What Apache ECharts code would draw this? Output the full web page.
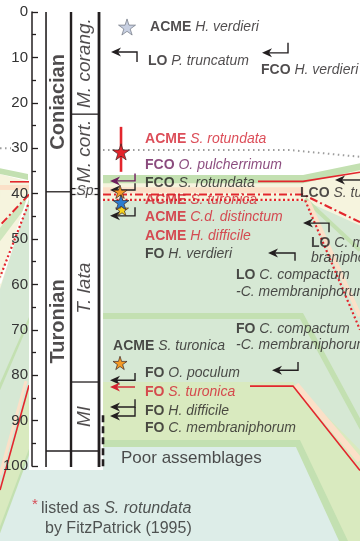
<!DOCTYPE html>
<html>
<head>
<meta charset="utf-8">
<script src="https://cdn.jsdelivr.net/npm/echarts@6/dist/echarts.min.js"></script>
<style>
  html, body { margin: 0; padding: 0; background: #fff; }
  #chart { width: 360px; height: 541px; }
</style>
</head>
<body>
<div id="chart"></div>
<script>
// ---------- data ----------
// depth scale (m), read downward
const depthTicks = [0, 10, 20, 30, 40, 50, 60, 70, 80, 90, 100];

// chronostratigraphy: [name, top, base] in m
const stages = [['Coniacian', 0, 39.6], ['Turonian', 39.6, 96.7]];
// dinocyst zones: [name, top, base] in m
const zones = [
  ['M. corang.', 0, 22.5],
  ['M. cort.', 22.5, 38.9],
  ['Sp', 38.9, 40.2],
  ['T. lata', 40.2, 81.5],
  ['MI', 81.5, 96.7]
];

// bio-events: [lateral position, depth, event type, taxon, tone]
const bioEvents = [
  [150, 3.3, 'ACME', 'H. verdieri', 'k'],
  [148, 10.9, 'LO', 'P. truncatum', 'k'],
  [261, 12.7, 'FCO', 'H. verdieri', 'k'],
  [145, 28.0, 'ACME', 'S. rotundata', 'r'],
  [145, 33.7, 'FCO', 'O. pulcherrimum', 'p'],
  [145, 37.7, 'FCO', 'S. rotundata', 'k'],
  [145, 41.4, 'ACME', 'S. turonica', 'r'],
  [145, 45.2, 'ACME', 'C.d. distinctum', 'r'],
  [145, 49.3, 'ACME', 'H. difficile', 'r'],
  [145, 53.3, 'FO', 'H. verdieri', 'k'],
  [300, 39.9, 'LCO', 'S. turonica', 'k'],
  [311, 50.9, 'LO', 'C. mem-', 'k'],
  [311, 54.2, '', 'braniphorum', 'k'],
  [236, 57.9, 'LO', 'C. compactum', 'k'],
  [236, 61.7, '', '-C. membraniphorum', 'k'],
  [236, 69.8, 'FO', 'C. compactum', 'k'],
  [236, 73.3, '', '-C. membraniphorum', 'k'],
  [113, 73.6, 'ACME', 'S. turonica', 'k'],
  [145, 79.5, 'FO', 'O. poculum', 'k'],
  [145, 83.7, 'FO', 'S. turonica', 'r'],
  [145, 87.9, 'FO', 'H. difficile', 'k'],
  [145, 91.6, 'FO', 'C. membraniphorum', 'k']
];

// event arrows: [tip position, depth, tail position, hook depth, tone]
const eventArrows = [
  [111, 8.8, 137, 11.0, 'k'],
  [262, 9.0, 288, 6.8, 'k'],
  [110, 37.2, 135, 35.6, 'p'],
  [110, 39.2, 135, 37.7, 'k'],
  [110, 44.9, 135, 43.0, 'k'],
  [335, 37.0, 368, 37.0, 'k'],
  [303, 46.5, 329, 48.5, 'k'],
  [268, 53.1, 295, 54.8, 'k'],
  [272, 78.9, 298, 77.1, 'k'],
  [110, 81.1, 135, 79.5, 'k'],
  [110, 82.6, 135, 82.6, 'r'],
  [110, 87.0, 135, 85.3, 'k'],
  [110, 89.0, 135, 87.0, 'k']
];

// acme stars: [lateral position, depth, taxon]
const acmeStars = [
  [127, 3.3, 'H. verdieri'],
  [121, 30.8, 'S. rotundata'],
  [120, 39.6, 'S. turonica'],
  [122, 43.5, 'H. difficile'],
  [121, 41.9, 'C.d. distinctum'],
  [120, 77.3, 'S. turonica']
];

// S. rotundata acme range bar: [position, top, base]
const rotundataRange = [121, 25.3, 35.2];

// correlation band outlines: [lateral position, depth]
const baseField = [[0, 37.5], [360, 37.5], [360, 117], [0, 117]];
const turonicaFieldMain = [[103, 81.5], [293, 81.5], [360, 96.5], [360, 117], [346, 117], [300, 94.6], [103, 94.6]];
const turonicaFieldLeft = [[29, 82.2], [29, 96.9], [0, 114.1], [0, 105.3]];
const poorField = [[29, 96.9], [103, 95.8], [296, 95.8], [342, 117], [0, 117], [0, 114.1]];
const lowerGreenMain = [[103, 94.3], [300, 94.3], [349, 117], [340, 117], [296, 95.8], [103, 95.8]];
const lowerGreenLeft = [[29, 96.2], [29, 97.6], [0, 114.8], [0, 113.3]];
const middleGreenMain = [[103, 66.3], [303, 66.3], [360, 89.5], [360, 92], [300, 67.6], [103, 67.6]];
const middleGreenLeft = [[29, 67.2], [29, 68.4], [0, 83.3], [0, 81.7]];
const creamMain = [[103, 37.4], [303, 37.4], [360, 34.5], [360, 47], [305, 41.6], [103, 41.6]];
const creamLeft = [[0, 35.7], [29, 37.4], [29, 40.8], [0, 61]];
const peachMain = [[103, 38.6], [304, 38.6], [304, 39.8], [103, 39.8]];
const peachLeft = [[0, 38.1], [29, 38.1], [29, 39.2], [0, 39.2]];
const paleGreenLeft = [[29, 40.0], [29, 42.0], [0, 50.5], [0, 47.5]];
const upperGreenMain = [[103, 35.9], [303, 35.9], [360, 33.3], [360, 34.8], [303, 37.7], [103, 37.7]];
const upperGreenLeft = [[0, 34.4], [28, 35.7], [28, 37.0], [0, 35.7]];
const fanGreenLine = [[305, 41.2], [360, 52.5]];
const fanPeachLine = [[308, 41.6], [360, 67]];
const peachLowerMain = [[296, 82.1], [360, 98.8]];
const peachLowerLeft = [[26, 81.3], [0, 102]];
const dottedMain = [[103, 30.4], [290, 30.4], [360, 31.9]];
const dottedLeft = [[0, 30.0], [11, 30.0]];
const redUpperMain = [[258, 37.3], [303, 37.3], [360, 35.3]];
const redUpperLeft = [[10, 37.4], [29, 37.4]];
const dashDotMain = [[103, 40.2], [303, 40.2], [360, 46.3]];
const dashDotLeft = [[29, 40.2], [0, 47]];
const redDotMain = [[103, 41.4], [305, 41.4], [360, 70]];
const redDotLeft = [[28, 42.5], [0, 58.4]];
const whiteLeft = [[28, 41.0], [0, 59.8]];
const redLowerMain = [[250, 82.4], [293, 82.4], [360, 101]];
const redLowerLeft = [[29, 82.2], [0, 105.3]];

// footnote
const noteLines = ['listed as', 'S. rotundata', 'by FitzPatrick (1995)'];
const poorNote = 'Poor assemblages';

// ---------- styling ----------
const FONT = '"Liberation Sans", Arial, Helvetica, sans-serif';
const INK = '#231f20', RED = '#d3222f', PURPLE = '#6d1d5c';
const tones = { k: INK, r: RED, p: PURPLE };
const starFill = {
  'H. verdieri': '#c8d0e2', 'S. rotundata': '#e5232b', 'S. turonica': '#f49a25',
  'H. difficile': '#f5d31c', 'C.d. distinctum': '#2a7ccf'
};
const starSize = { 'H. verdieri': 17, 'S. rotundata': 17, 'S. turonica': 14, 'H. difficile': 13, 'C.d. distinctum': 16 };
const STAR = 'path://M50,0 L61,35 L98,35 L68,57 L79,91 L50,70 L21,91 L32,57 L2,35 L39,35 Z';

// column layout (lateral positions)
const COL = { boxL: 29, boxR: 103, stageL: 46, zoneL: 71, zoneR: 99, dashX: 103 };

const GREY_GREEN = '#d6e8d4', YELLOW_GREEN = '#d9eabf', POOR = '#ddede8', GREEN = '#c3e0b1',
      CREAM = '#f6f4de', PEACH = '#fbe0c8', PALE_GREEN = '#cfe6bd';

const layers = [
  { pts: baseField, fill: GREY_GREEN },
  { pts: turonicaFieldMain, fill: YELLOW_GREEN },
  { pts: turonicaFieldLeft, fill: YELLOW_GREEN },
  { pts: poorField, fill: POOR },
  { pts: lowerGreenMain, fill: GREEN },
  { pts: lowerGreenLeft, fill: GREEN },
  { pts: middleGreenMain, fill: GREEN },
  { pts: middleGreenLeft, fill: GREEN },
  { pts: creamMain, fill: CREAM },
  { pts: creamLeft, fill: CREAM },
  { pts: peachMain, fill: PEACH },
  { pts: peachLeft, fill: PEACH },
  { pts: paleGreenLeft, fill: PALE_GREEN },
  { pts: upperGreenMain, fill: GREEN },
  { pts: upperGreenLeft, fill: GREEN },
  { pts: fanGreenLine, stroke: GREEN, w: 4 },
  { pts: fanPeachLine, stroke: PEACH, w: 4 },
  { pts: peachLowerMain, stroke: PEACH, w: 6 },
  { pts: peachLowerLeft, stroke: PEACH, w: 3 },
  { pts: dottedMain, stroke: '#9d9d9d', w: 2, dash: [1.5, 3.5] },
  { pts: dottedLeft, stroke: '#9d9d9d', w: 2, dash: [1.5, 3.5] },
  { pts: redUpperMain, stroke: '#e3262d', w: 1.6 },
  { pts: redUpperLeft, stroke: '#e3262d', w: 1.6 },
  { pts: whiteLeft, stroke: '#ffffff', w: 2 },
  { pts: dashDotMain, stroke: '#e3262d', w: 2, dash: [8, 3, 2, 3] },
  { pts: dashDotLeft, stroke: '#e3262d', w: 2, dash: [8, 3, 2, 3] },
  { pts: redDotMain, stroke: '#e3262d', w: 2.2, dash: [2, 2.5] },
  { pts: redDotLeft, stroke: '#e3262d', w: 2.2, dash: [2, 2.5] },
  { pts: redLowerMain, stroke: '#e3262d', w: 1.6 },
  { pts: redLowerLeft, stroke: '#e3262d', w: 1.6 }
];

const chart = echarts.init(document.getElementById('chart'), null, { renderer: 'canvas' });

function richSet() {
  const r = {};
  Object.keys(tones).forEach(k => {
    r['b' + k] = { fontWeight: 'bold', fontSize: 14, color: tones[k], fontFamily: FONT };
    r['i' + k] = { fontStyle: 'italic', fontSize: 14, color: tones[k], fontFamily: FONT };
  });
  return r;
}

const zoneMid = (COL.zoneL + COL.zoneR) / 2;
const stageMid = (COL.stageL + COL.zoneL) / 2;

chart.setOption({
  animation: false,
  backgroundColor: '#ffffff',
  grid: { left: 0, right: 0, top: 12, bottom: 75 },
  xAxis: { type: 'value', min: 0, max: 360, show: false },
  yAxis: {
    type: 'value', inverse: true,
    min: depthTicks[0], max: depthTicks[depthTicks.length - 1], interval: depthTicks[1] - depthTicks[0],
    position: 'left', offset: -32, z: 10,
    axisLine: { show: true, onZero: false, lineStyle: { color: INK, width: 1.5 } },
    axisTick: { show: true, inside: true, length: 6, lineStyle: { color: INK, width: 1.3 } },
    minorTick: { show: true, splitNumber: 2, length: 4, lineStyle: { color: INK, width: 1.3 } },
    axisLabel: { color: '#333333', fontSize: 15, fontFamily: FONT, margin: 4 },
    splitLine: { show: false }
  },
  series: [
    // correlation bands and marker lines
    {
      type: 'custom', z: 1, silent: true, clip: false,
      data: layers.map((l, i) => [i, 0]),
      renderItem: (params, api) => {
        const L = layers[params.dataIndex];
        const pts = L.pts.map(p => api.coord(p));
        if (L.fill) return { type: 'polygon', shape: { points: pts }, style: { fill: L.fill } };
        return { type: 'polyline', shape: { points: pts },
          style: { stroke: L.stroke, lineWidth: L.w, lineDash: L.dash || null, fill: null } };
      }
    },
    // stratigraphic column frame
    {
      type: 'custom', z: 2, silent: true, clip: false,
      data: [[0, 0]],
      renderItem: (params, api) => {
        const P = (x, d) => api.coord([x, d]);
        const line = (a, b, w, dash) => ({ type: 'line',
          shape: { x1: a[0], y1: a[1], x2: b[0], y2: b[1] },
          style: { stroke: INK, lineWidth: w, lineDash: dash || null } });
        const tl = P(COL.boxL, -3), br = P(COL.boxR, 100.9);
        const bottom = depthTicks[depthTicks.length - 1] + 0.2;
        const kids = [
          { type: 'rect', shape: { x: tl[0], y: tl[1], width: br[0] - tl[0], height: br[1] - tl[1] }, style: { fill: '#ffffff' } },
          line(P(COL.stageL, 0), P(COL.stageL, bottom), 1.6),
          line(P(COL.zoneL, 0), P(COL.zoneL, bottom), 2.4),
          line(P(COL.zoneR, 0), P(COL.zoneR, bottom), 2.8)
        ];
        stages.forEach((s, i) => {
          if (i < stages.length - 1) kids.push(line(P(COL.stageL, s[2]), P(COL.zoneL, s[2]), 1.3));
        });
        zones.forEach((z, i) => {
          if (i < zones.length - 1) kids.push(line(P(COL.zoneL, z[2]), P(COL.zoneR, z[2]), 1.3));
        });
        const base = stages[stages.length - 1][2];
        kids.push(line(P(COL.stageL, base), P(COL.zoneR, base), 1.3));
        kids.push(line(P(COL.dashX, 88.8), P(COL.dashX, 100.2), 2.6, [7, 4]));
        const r0 = P(rotundataRange[0], rotundataRange[1]), r1 = P(rotundataRange[0], rotundataRange[2]);
        kids.push({ type: 'line', shape: { x1: r0[0], y1: r0[1], x2: r1[0], y2: r1[1] }, style: { stroke: '#e3262d', lineWidth: 2.6 } });
        return { type: 'group', children: kids };
      }
    },
    // event arrows
    {
      type: 'custom', z: 4, silent: true, clip: false,
      data: eventArrows.map((a, i) => [i, 0]),
      renderItem: (params, api) => {
        const a = eventArrows[params.dataIndex];
        const tip = api.coord([a[0], a[1]]);
        const end = api.coord([a[2], a[1]]);
        const hook = api.coord([a[2], a[3]]);
        const c = tones[a[4]];
        return { type: 'group', children: [
          { type: 'polyline', shape: { points: [[tip[0] + 6, tip[1]], end, hook] },
            style: { stroke: c, lineWidth: 1.4, fill: null } },
          { type: 'polygon', shape: { points: [tip, [tip[0] + 10, tip[1] - 4.5], [tip[0] + 7, tip[1]], [tip[0] + 10, tip[1] + 4.5]] },
            style: { fill: c } }
        ] };
      }
    },
    // acme stars
    {
      type: 'scatter', z: 6, silent: true, clip: false,
      symbol: STAR, symbolKeepAspect: true,
      data: acmeStars.map(s => ({
        value: [s[0], s[1]],
        symbolSize: starSize[s[2]],
        itemStyle: { color: starFill[s[2]], borderColor: s[2] === 'H. verdieri' ? '#6f7480' : '#3b2222', borderWidth: 0.7, opacity: 1 }
      }))
    },
    // stage names
    {
      type: 'scatter', z: 7, silent: true, clip: false, symbolSize: 0,
      data: stages.map(s => [stageMid, (s[1] + s[2]) / 2]),
      label: { show: true, position: 'inside', rotate: 90, formatter: p => stages[p.dataIndex][0],
        fontSize: 20, fontWeight: 'bold', color: INK, fontFamily: FONT }
    },
    // zone names
    {
      type: 'scatter', z: 7, silent: true, clip: false, symbolSize: 0,
      data: zones.map(z => ({
        value: [zoneMid, (z[1] + z[2]) / 2],
        label: z[0] === 'Sp'
          ? { rotate: 0, fontSize: 14, backgroundColor: '#ffffff', padding: [0, 1] }
          : { rotate: 90, fontSize: 19 }
      })),
      label: { show: true, position: 'inside', formatter: p => zones[p.dataIndex][0],
        fontStyle: 'italic', color: INK, fontFamily: FONT }
    },
    // bio-event labels
    {
      type: 'scatter', z: 8, silent: true, clip: false, symbolSize: 0,
      data: bioEvents.map(e => [e[0], e[1]]),
      label: {
        show: true, position: [0, 0], align: 'left', verticalAlign: 'middle',
        fontSize: 14, fontFamily: FONT, color: INK,
        formatter: p => {
          const e = bioEvents[p.dataIndex];
          return (e[2] ? '{b' + e[4] + '|' + e[2] + '} ' : '') + '{i' + e[4] + '|' + e[3] + '}';
        },
        rich: richSet()
      }
    },
    // notes
    {
      type: 'scatter', z: 8, silent: true, clip: false, symbolSize: 0,
      data: [[121, 98.2], [32, 108.6], [41, 109.3], [45, 113.7]],
      label: {
        show: true, position: [0, 0], align: 'left', verticalAlign: 'middle',
        fontFamily: FONT, color: '#2b2b2b', fontSize: 16,
        formatter: p => [
          '{big|' + poorNote + '}',
          '{star|*}',
          noteLines[0] + ' {it|' + noteLines[1] + '}',
          noteLines[2]
        ][p.dataIndex],
        rich: {
          big: { fontSize: 17, color: INK, fontFamily: FONT },
          star: { fontSize: 15, color: RED, fontFamily: FONT },
          it: { fontSize: 16, fontStyle: 'italic', color: '#2b2b2b', fontFamily: FONT }
        }
      }
    }
  ]
});
</script>
</body>
</html>
